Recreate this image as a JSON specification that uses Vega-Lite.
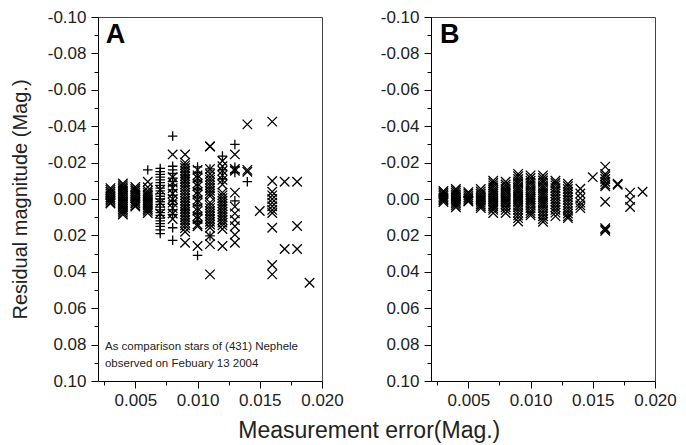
{
"$schema": "https://vega.github.io/schema/vega-lite/v6.json",
"background": "white",
"padding": {"left": 9, "top": 7, "right": 10, "bottom": 2},
"config": {
  "font": "Liberation Sans",
  "view": {"stroke": "#444", "strokeWidth": 1},
  "axis": {"domainColor": "#000", "tickColor": "#000", "labelColor": "#222", "labelFontSize": 17, "labelFont": "Liberation Sans", "grid": false, "titleFont": "Liberation Sans", "titleFontWeight": "normal", "titleColor": "#222", "labelOverlap": false, "labelBound": false, "labelFlush": false}
},
"title": {"text": "Measurement error(Mag.)", "orient": "bottom", "anchor": "middle", "fontSize": 23, "fontWeight": "normal", "color": "#222", "offset": 11, "dx": 26},
"datasets": {
"A": [
{"x":0.003,"y":-0.006,"m":"x"},{"x":0.003,"y":-0.005,"m":"x"},{"x":0.003,"y":-0.004,"m":"x"},{"x":0.003,"y":-0.003,"m":"x"},{"x":0.003,"y":-0.002,"m":"x"},{"x":0.003,"y":-0.001,"m":"x"},{"x":0.003,"y":0,"m":"x"},{"x":0.003,"y":0.001,"m":"x"},{"x":0.003,"y":0.002,"m":"x"},{"x":0.003,"y":0.0025,"m":"x"},
{"x":0.004,"y":-0.0085,"m":"x"},{"x":0.004,"y":-0.0075,"m":"x"},{"x":0.004,"y":-0.0065,"m":"x"},{"x":0.004,"y":-0.0055,"m":"x"},{"x":0.004,"y":-0.0045,"m":"x"},{"x":0.004,"y":-0.0035,"m":"x"},{"x":0.004,"y":-0.0025,"m":"x"},{"x":0.004,"y":-0.0015,"m":"x"},{"x":0.004,"y":-0.0005,"m":"x"},{"x":0.004,"y":0.0005,"m":"x"},{"x":0.004,"y":0.0015,"m":"x"},{"x":0.004,"y":0.0025,"m":"x"},{"x":0.004,"y":0.0035,"m":"x"},{"x":0.004,"y":0.0045,"m":"x"},{"x":0.004,"y":0.0055,"m":"x"},{"x":0.004,"y":0.0065,"m":"x"},{"x":0.004,"y":0.0075,"m":"x"},{"x":0.004,"y":0.0085,"m":"x"},
{"x":0.005,"y":-0.0066,"m":"x"},{"x":0.005,"y":-0.0055,"m":"x"},{"x":0.005,"y":-0.0045,"m":"x"},{"x":0.005,"y":-0.0035,"m":"x"},{"x":0.005,"y":-0.0025,"m":"x"},{"x":0.005,"y":-0.0015,"m":"x"},{"x":0.005,"y":-0.0005,"m":"x"},{"x":0.005,"y":0.0005,"m":"x"},{"x":0.005,"y":0.0015,"m":"x"},{"x":0.005,"y":0.0025,"m":"x"},{"x":0.005,"y":0.0035,"m":"x"},{"x":0.005,"y":0.0041,"m":"x"},
{"x":0.006,"y":-0.016,"m":"+"},{"x":0.006,"y":-0.0095,"m":"x"},{"x":0.006,"y":-0.0065,"m":"x"},{"x":0.006,"y":-0.0045,"m":"x"},{"x":0.006,"y":-0.0035,"m":"x"},{"x":0.006,"y":-0.0025,"m":"x"},{"x":0.006,"y":-0.0015,"m":"x"},{"x":0.006,"y":-0.0005,"m":"x"},{"x":0.006,"y":0.0005,"m":"x"},{"x":0.006,"y":0.0015,"m":"x"},{"x":0.006,"y":0.0025,"m":"x"},{"x":0.006,"y":0.0035,"m":"x"},{"x":0.006,"y":0.0045,"m":"x"},{"x":0.006,"y":0.0055,"m":"x"},{"x":0.006,"y":0.0065,"m":"x"},{"x":0.006,"y":0.0077,"m":"x"},
{"x":0.007,"y":-0.0168,"m":"+"},{"x":0.007,"y":-0.015,"m":"+"},{"x":0.007,"y":-0.0135,"m":"+"},{"x":0.007,"y":-0.012,"m":"+"},{"x":0.007,"y":-0.0105,"m":"+"},{"x":0.007,"y":-0.009,"m":"+"},{"x":0.007,"y":-0.0075,"m":"+"},{"x":0.007,"y":-0.006,"m":"+"},{"x":0.007,"y":-0.0045,"m":"+"},{"x":0.007,"y":-0.003,"m":"+"},{"x":0.007,"y":-0.0015,"m":"+"},{"x":0.007,"y":0,"m":"+"},{"x":0.007,"y":0.0015,"m":"+"},{"x":0.007,"y":0.003,"m":"+"},{"x":0.007,"y":0.0045,"m":"+"},{"x":0.007,"y":0.006,"m":"+"},{"x":0.007,"y":0.0075,"m":"+"},{"x":0.007,"y":0.009,"m":"+"},{"x":0.007,"y":0.0105,"m":"+"},{"x":0.007,"y":0.012,"m":"+"},{"x":0.007,"y":0.0135,"m":"+"},{"x":0.007,"y":0.015,"m":"+"},{"x":0.007,"y":0.017,"m":"+"},{"x":0.007,"y":0.019,"m":"+"},{"x":0.007,"y":-0.005,"m":"x"},{"x":0.007,"y":0.002,"m":"x"},{"x":0.007,"y":0.008,"m":"x"},
{"x":0.008,"y":-0.0245,"m":"x"},{"x":0.008,"y":-0.012,"m":"x"},{"x":0.008,"y":-0.009,"m":"x"},{"x":0.008,"y":-0.006,"m":"x"},{"x":0.008,"y":-0.003,"m":"x"},{"x":0.008,"y":0,"m":"x"},{"x":0.008,"y":0.002,"m":"x"},{"x":0.008,"y":0.005,"m":"x"},{"x":0.008,"y":0.008,"m":"x"},{"x":0.008,"y":0.011,"m":"x"},
{"x":0.008,"y":-0.0346,"m":"+"},{"x":0.008,"y":-0.018,"m":"+"},{"x":0.008,"y":-0.016,"m":"+"},{"x":0.008,"y":-0.014,"m":"+"},{"x":0.008,"y":-0.0115,"m":"+"},{"x":0.008,"y":-0.0095,"m":"+"},{"x":0.008,"y":-0.0075,"m":"+"},{"x":0.008,"y":-0.005,"m":"+"},{"x":0.008,"y":-0.002,"m":"+"},{"x":0.008,"y":0.001,"m":"+"},{"x":0.008,"y":0.003,"m":"+"},{"x":0.008,"y":0.006,"m":"+"},{"x":0.008,"y":0.0085,"m":"+"},{"x":0.008,"y":0.0158,"m":"+"},{"x":0.008,"y":0.0227,"m":"+"},
{"x":0.009,"y":-0.0245,"m":"x"},{"x":0.009,"y":-0.02,"m":"x"},{"x":0.009,"y":-0.0185,"m":"x"},{"x":0.009,"y":-0.017,"m":"x"},{"x":0.009,"y":-0.0155,"m":"x"},{"x":0.009,"y":-0.014,"m":"x"},{"x":0.009,"y":-0.0125,"m":"x"},{"x":0.009,"y":-0.011,"m":"x"},{"x":0.009,"y":-0.0095,"m":"x"},{"x":0.009,"y":-0.008,"m":"x"},{"x":0.009,"y":-0.0065,"m":"x"},{"x":0.009,"y":-0.005,"m":"x"},{"x":0.009,"y":-0.0035,"m":"x"},{"x":0.009,"y":-0.002,"m":"x"},{"x":0.009,"y":-0.0005,"m":"x"},{"x":0.009,"y":0.001,"m":"x"},{"x":0.009,"y":0.0025,"m":"x"},{"x":0.009,"y":0.004,"m":"x"},{"x":0.009,"y":0.0055,"m":"x"},{"x":0.009,"y":0.007,"m":"x"},{"x":0.009,"y":0.0085,"m":"x"},{"x":0.009,"y":0.01,"m":"x"},{"x":0.009,"y":0.0115,"m":"x"},{"x":0.009,"y":0.013,"m":"x"},{"x":0.009,"y":0.0145,"m":"x"},{"x":0.009,"y":0.016,"m":"x"},{"x":0.009,"y":0.018,"m":"x"},{"x":0.009,"y":0.024,"m":"x"},{"x":0.009,"y":-0.012,"m":"+"},{"x":0.009,"y":0.006,"m":"+"},
{"x":0.01,"y":-0.0176,"m":"+"},{"x":0.01,"y":-0.016,"m":"x"},{"x":0.01,"y":-0.0145,"m":"+"},{"x":0.01,"y":-0.013,"m":"x"},{"x":0.01,"y":-0.0115,"m":"x"},{"x":0.01,"y":-0.01,"m":"+"},{"x":0.01,"y":-0.0085,"m":"x"},{"x":0.01,"y":-0.007,"m":"x"},{"x":0.01,"y":-0.0055,"m":"+"},{"x":0.01,"y":-0.004,"m":"x"},{"x":0.01,"y":-0.0025,"m":"x"},{"x":0.01,"y":-0.001,"m":"+"},{"x":0.01,"y":0.0005,"m":"x"},{"x":0.01,"y":0.002,"m":"x"},{"x":0.01,"y":0.0035,"m":"+"},{"x":0.01,"y":0.005,"m":"x"},{"x":0.01,"y":0.0065,"m":"x"},{"x":0.01,"y":0.008,"m":"+"},{"x":0.01,"y":0.0095,"m":"x"},{"x":0.01,"y":0.011,"m":"x"},{"x":0.01,"y":0.0125,"m":"+"},{"x":0.01,"y":0.014,"m":"x"},{"x":0.01,"y":0.015,"m":"x"},{"x":0.01,"y":0.0258,"m":"x"},{"x":0.01,"y":0.031,"m":"+"},
{"x":0.011,"y":-0.029,"m":"x"},{"x":0.011,"y":-0.0288,"m":"x"},{"x":0.011,"y":-0.0165,"m":"+"},{"x":0.011,"y":-0.0165,"m":"x"},{"x":0.011,"y":-0.0137,"m":"x"},{"x":0.011,"y":-0.012,"m":"x"},{"x":0.011,"y":-0.0105,"m":"x"},{"x":0.011,"y":-0.009,"m":"x"},{"x":0.011,"y":-0.0075,"m":"x"},{"x":0.011,"y":-0.006,"m":"x"},{"x":0.011,"y":-0.0045,"m":"x"},{"x":0.011,"y":-0.003,"m":"x"},{"x":0.011,"y":-0.0016,"m":"x"},{"x":0.011,"y":0.002,"m":"x"},{"x":0.011,"y":0.0035,"m":"x"},{"x":0.011,"y":0.005,"m":"x"},{"x":0.011,"y":0.0065,"m":"x"},{"x":0.011,"y":0.008,"m":"x"},{"x":0.011,"y":0.0095,"m":"x"},{"x":0.011,"y":0.011,"m":"x"},{"x":0.011,"y":0.0125,"m":"x"},{"x":0.011,"y":0.014,"m":"x"},{"x":0.011,"y":0.0158,"m":"x"},{"x":0.011,"y":0.0203,"m":"x"},{"x":0.011,"y":0.0203,"m":"+"},{"x":0.011,"y":0.0248,"m":"x"},{"x":0.011,"y":0.0414,"m":"x"},
{"x":0.012,"y":-0.0236,"m":"+"},{"x":0.012,"y":-0.0209,"m":"x"},{"x":0.012,"y":-0.018,"m":"x"},{"x":0.012,"y":-0.016,"m":"+"},{"x":0.012,"y":-0.0155,"m":"x"},{"x":0.012,"y":-0.013,"m":"x"},{"x":0.012,"y":-0.011,"m":"+"},{"x":0.012,"y":-0.0105,"m":"x"},{"x":0.012,"y":-0.008,"m":"x"},{"x":0.012,"y":-0.0035,"m":"x"},{"x":0.012,"y":-0.002,"m":"x"},{"x":0.012,"y":-0.0005,"m":"x"},{"x":0.012,"y":0.001,"m":"x"},{"x":0.012,"y":0.0025,"m":"x"},{"x":0.012,"y":0.004,"m":"x"},{"x":0.012,"y":0.0055,"m":"x"},{"x":0.012,"y":0.007,"m":"x"},{"x":0.012,"y":0.0085,"m":"x"},{"x":0.012,"y":0.01,"m":"x"},{"x":0.012,"y":0.0115,"m":"x"},{"x":0.012,"y":0.013,"m":"x"},{"x":0.012,"y":0.0145,"m":"x"},{"x":0.012,"y":0.0165,"m":"x"},{"x":0.012,"y":0.0258,"m":"x"},
{"x":0.013,"y":-0.03,"m":"+"},{"x":0.013,"y":-0.0245,"m":"x"},{"x":0.013,"y":-0.0175,"m":"+"},{"x":0.013,"y":-0.0165,"m":"x"},{"x":0.013,"y":-0.0155,"m":"x"},{"x":0.013,"y":-0.0145,"m":"+"},{"x":0.013,"y":-0.0035,"m":"x"},{"x":0.013,"y":0.001,"m":"+"},{"x":0.013,"y":0.0042,"m":"x"},{"x":0.013,"y":0.0079,"m":"x"},{"x":0.013,"y":0.0115,"m":"x"},{"x":0.013,"y":0.015,"m":"x"},{"x":0.013,"y":0.0196,"m":"x"},{"x":0.013,"y":0.024,"m":"x"},
{"x":0.014,"y":-0.041,"m":"x"},{"x":0.014,"y":-0.016,"m":"x"},{"x":0.014,"y":-0.015,"m":"x"},{"x":0.014,"y":-0.0095,"m":"+"},
{"x":0.015,"y":0.0066,"m":"x"},
{"x":0.016,"y":-0.0425,"m":"x"},{"x":0.016,"y":-0.0099,"m":"x"},{"x":0.016,"y":-0.004,"m":"x"},{"x":0.016,"y":-0.002,"m":"x"},{"x":0.016,"y":0,"m":"x"},{"x":0.016,"y":0.002,"m":"x"},{"x":0.016,"y":0.004,"m":"x"},{"x":0.016,"y":0.006,"m":"x"},{"x":0.016,"y":0.0077,"m":"x"},{"x":0.016,"y":0.0158,"m":"x"},{"x":0.016,"y":0.0363,"m":"x"},{"x":0.016,"y":0.0414,"m":"x"},
{"x":0.017,"y":-0.0095,"m":"x"},{"x":0.017,"y":0.0275,"m":"x"},
{"x":0.018,"y":-0.0095,"m":"x"},{"x":0.018,"y":0.0148,"m":"x"},{"x":0.018,"y":0.0275,"m":"x"},
{"x":0.019,"y":0.046,"m":"x"}
],
"B": [
{"x":0.003,"y":-0.0044},{"x":0.003,"y":-0.0035},{"x":0.003,"y":-0.0026},{"x":0.003,"y":-0.0017},{"x":0.003,"y":-0.0008},{"x":0.003,"y":0},{"x":0.003,"y":0.0008},{"x":0.003,"y":0.0017},
{"x":0.004,"y":-0.0055},{"x":0.004,"y":-0.0045},{"x":0.004,"y":-0.0035},{"x":0.004,"y":-0.0025},{"x":0.004,"y":-0.0015},{"x":0.004,"y":-0.0005},{"x":0.004,"y":0.0005},{"x":0.004,"y":0.0015},{"x":0.004,"y":0.0025},{"x":0.004,"y":0.0035},{"x":0.004,"y":0.0045},
{"x":0.005,"y":-0.0038},{"x":0.005,"y":-0.003},{"x":0.005,"y":-0.002},{"x":0.005,"y":-0.001},{"x":0.005,"y":0},{"x":0.005,"y":0.001},{"x":0.005,"y":0.0014},
{"x":0.006,"y":-0.0055},{"x":0.006,"y":-0.0042},{"x":0.006,"y":-0.003},{"x":0.006,"y":-0.002},{"x":0.006,"y":-0.001},{"x":0.006,"y":0},{"x":0.006,"y":0.001},{"x":0.006,"y":0.002},{"x":0.006,"y":0.003},{"x":0.006,"y":0.004},{"x":0.006,"y":0.005},
{"x":0.007,"y":-0.01},{"x":0.007,"y":-0.0088},{"x":0.007,"y":-0.0075},{"x":0.007,"y":-0.0063},{"x":0.007,"y":-0.005},{"x":0.007,"y":-0.004},{"x":0.007,"y":-0.003},{"x":0.007,"y":-0.002},{"x":0.007,"y":-0.001},{"x":0.007,"y":0},{"x":0.007,"y":0.001},{"x":0.007,"y":0.002},{"x":0.007,"y":0.003},{"x":0.007,"y":0.004},{"x":0.007,"y":0.005},{"x":0.007,"y":0.006},{"x":0.007,"y":0.0077},
{"x":0.008,"y":-0.0095},{"x":0.008,"y":-0.008},{"x":0.008,"y":-0.0068},{"x":0.008,"y":-0.0055},{"x":0.008,"y":-0.0043},{"x":0.008,"y":-0.003},{"x":0.008,"y":-0.002},{"x":0.008,"y":-0.001},{"x":0.008,"y":0},{"x":0.008,"y":0.001},{"x":0.008,"y":0.002},{"x":0.008,"y":0.003},{"x":0.008,"y":0.0045},{"x":0.008,"y":0.006},{"x":0.008,"y":0.0077},
{"x":0.009,"y":-0.0138},{"x":0.009,"y":-0.0125},{"x":0.009,"y":-0.011},{"x":0.009,"y":-0.0097},{"x":0.009,"y":-0.0085},{"x":0.009,"y":-0.007},{"x":0.009,"y":-0.0058},{"x":0.009,"y":-0.0045},{"x":0.009,"y":-0.0033},{"x":0.009,"y":-0.002},{"x":0.009,"y":-0.001},{"x":0.009,"y":0},{"x":0.009,"y":0.001},{"x":0.009,"y":0.002},{"x":0.009,"y":0.0033},{"x":0.009,"y":0.0045},{"x":0.009,"y":0.006},{"x":0.009,"y":0.0075},{"x":0.009,"y":0.009},{"x":0.009,"y":0.0105},{"x":0.009,"y":0.0124},
{"x":0.01,"y":-0.013},{"x":0.01,"y":-0.0115},{"x":0.01,"y":-0.01},{"x":0.01,"y":-0.0088},{"x":0.01,"y":-0.0075},{"x":0.01,"y":-0.006},{"x":0.01,"y":-0.0047},{"x":0.01,"y":-0.0035},{"x":0.01,"y":-0.0022},{"x":0.01,"y":-0.001},{"x":0.01,"y":0},{"x":0.01,"y":0.001},{"x":0.01,"y":0.0022},{"x":0.01,"y":0.0035},{"x":0.01,"y":0.005},{"x":0.01,"y":0.0065},{"x":0.01,"y":0.0078},{"x":0.01,"y":0.009},
{"x":0.011,"y":-0.013},{"x":0.011,"y":-0.0115},{"x":0.011,"y":-0.0102},{"x":0.011,"y":-0.009},{"x":0.011,"y":-0.0075},{"x":0.011,"y":-0.0062},{"x":0.011,"y":-0.005},{"x":0.011,"y":-0.0037},{"x":0.011,"y":-0.0025},{"x":0.011,"y":-0.0012},{"x":0.011,"y":0},{"x":0.011,"y":0.0012},{"x":0.011,"y":0.0025},{"x":0.011,"y":0.0037},{"x":0.011,"y":0.005},{"x":0.011,"y":0.0065},{"x":0.011,"y":0.008},{"x":0.011,"y":0.0095},{"x":0.011,"y":0.011},{"x":0.011,"y":0.0125},
{"x":0.012,"y":-0.01},{"x":0.012,"y":-0.0088},{"x":0.012,"y":-0.0075},{"x":0.012,"y":-0.006},{"x":0.012,"y":-0.0045},{"x":0.012,"y":-0.003},{"x":0.012,"y":-0.0015},{"x":0.012,"y":0},{"x":0.012,"y":0.0015},{"x":0.012,"y":0.003},{"x":0.012,"y":0.0045},{"x":0.012,"y":0.006},{"x":0.012,"y":0.0075},{"x":0.012,"y":0.0094},
{"x":0.013,"y":-0.0084},{"x":0.013,"y":-0.007},{"x":0.013,"y":-0.0055},{"x":0.013,"y":-0.004},{"x":0.013,"y":-0.0025},{"x":0.013,"y":-0.001},{"x":0.013,"y":0.0005},{"x":0.013,"y":0.002},{"x":0.013,"y":0.0035},{"x":0.013,"y":0.005},{"x":0.013,"y":0.0065},{"x":0.013,"y":0.008},{"x":0.013,"y":0.0095},{"x":0.013,"y":0.0105},
{"x":0.014,"y":-0.0056},{"x":0.014,"y":-0.003},{"x":0.014,"y":-0.0005},{"x":0.014,"y":0.002},{"x":0.014,"y":0.0035},{"x":0.014,"y":0.005},
{"x":0.015,"y":-0.012},
{"x":0.016,"y":-0.0178},{"x":0.016,"y":-0.0137},{"x":0.016,"y":-0.0125},{"x":0.016,"y":-0.011},{"x":0.016,"y":-0.0095},{"x":0.016,"y":-0.008},{"x":0.016,"y":-0.007},{"x":0.016,"y":0.0015},{"x":0.016,"y":0.016},{"x":0.016,"y":0.0168},{"x":0.016,"y":0.0175},
{"x":0.017,"y":-0.0084},{"x":0.017,"y":-0.0078},
{"x":0.018,"y":-0.0035},{"x":0.018,"y":0.0005},{"x":0.018,"y":0.0044},
{"x":0.019,"y":-0.004}
]
},
"spacing": 35,
"hconcat": [
{
  "width": 224, "height": 364,
  "resolve": {"axis": {"x": "independent", "y": "independent"}},
  "layer": [
    {
      "data": {"name": "A"},
      "mark": {"type": "point", "filled": false, "stroke": "#000", "strokeWidth": 1.3, "size": 90, "opacity": 1},
      "encoding": {
        "x": {"field": "x", "type": "quantitative", "scale": {"domain": [0.002, 0.02], "nice": false, "zero": false},
          "axis": {"title": null, "orient": "bottom", "values": [0.005,0.01,0.015,0.02], "format": ".3f", "tickSize": 7, "labelPadding": 4}},
        "y": {"field": "y", "type": "quantitative", "scale": {"domain": [-0.1, 0.1], "reverse": true, "nice": false, "zero": false},
          "axis": {"title": "Residual magnitude (Mag.)", "orient": "left", "titleFontSize": 20, "titlePadding": 17, "values": [-0.1,-0.08,-0.06,-0.04,-0.02,0,0.02,0.04,0.06,0.08,0.1], "labelExpr": "replace(format(datum.value, '.2f'), '\u2212', '-')", "tickSize": 7, "labelPadding": 5}},
        "shape": {"field": "m", "type": "nominal", "scale": {"domain": ["x", "+"], "range": ["M-1,-1L1,1M-1,1L1,-1", "M-1,0L1,0M0,-1L0,1"]}, "legend": null}
      }
    },
    {
      "data": {"values": [{}]},
      "mark": {"type": "text", "text": "A", "fontSize": 27, "fontWeight": "bold", "align": "left", "baseline": "alphabetic", "color": "#000"},
      "encoding": {
        "x": {"datum": 0.00262, "type": "quantitative", "axis": {"title": null, "orient": "bottom", "values": [0.0025,0.0075,0.0125,0.0175], "labels": false, "domain": false, "tickSize": 4}},
        "y": {"datum": -0.0855, "type": "quantitative", "axis": {"title": null, "orient": "left", "values": [-0.09,-0.07,-0.05,-0.03,-0.01,0.01,0.03,0.05,0.07,0.09], "labels": false, "domain": false, "tickSize": 4}}
      }
    },
    {
      "data": {"values": [{}]},
      "mark": {"type": "text", "text": ["As comparison stars of (431) Nephele", "observed on Febuary 13 2004"], "fontSize": 11.5, "lineHeight": 17, "align": "left", "baseline": "middle", "color": "#222"},
      "encoding": {"x": {"datum": 0.00256, "type": "quantitative", "axis": null}, "y": {"datum": 0.0811, "type": "quantitative", "axis": null}}
    }
  ]
},
{
  "width": 224, "height": 364,
  "resolve": {"axis": {"x": "independent", "y": "independent"}},
  "layer": [
    {
      "data": {"name": "B"},
      "mark": {"type": "point", "filled": false, "stroke": "#000", "strokeWidth": 1.3, "size": 90, "opacity": 1, "shape": "M-1,-1L1,1M-1,1L1,-1"},
      "encoding": {
        "x": {"field": "x", "type": "quantitative", "scale": {"domain": [0.002, 0.02], "nice": false, "zero": false},
          "axis": {"title": null, "orient": "bottom", "values": [0.005,0.01,0.015,0.02], "format": ".3f", "tickSize": 7, "labelPadding": 4}},
        "y": {"field": "y", "type": "quantitative", "scale": {"domain": [-0.1, 0.1], "reverse": true, "nice": false, "zero": false},
          "axis": {"title": null, "orient": "left", "values": [-0.1,-0.08,-0.06,-0.04,-0.02,0,0.02,0.04,0.06,0.08,0.1], "labelExpr": "replace(format(datum.value, '.2f'), '\u2212', '-')", "tickSize": 7, "labelPadding": 5}}
      }
    },
    {
      "data": {"values": [{}]},
      "mark": {"type": "text", "text": "B", "fontSize": 27, "fontWeight": "bold", "align": "left", "baseline": "alphabetic", "color": "#000"},
      "encoding": {
        "x": {"datum": 0.00272, "type": "quantitative", "axis": {"title": null, "orient": "bottom", "values": [0.0025,0.0075,0.0125,0.0175], "labels": false, "domain": false, "tickSize": 4}},
        "y": {"datum": -0.0855, "type": "quantitative", "axis": {"title": null, "orient": "left", "values": [-0.09,-0.07,-0.05,-0.03,-0.01,0.01,0.03,0.05,0.07,0.09], "labels": false, "domain": false, "tickSize": 4}}
      }
    }
  ]
}
]
}
